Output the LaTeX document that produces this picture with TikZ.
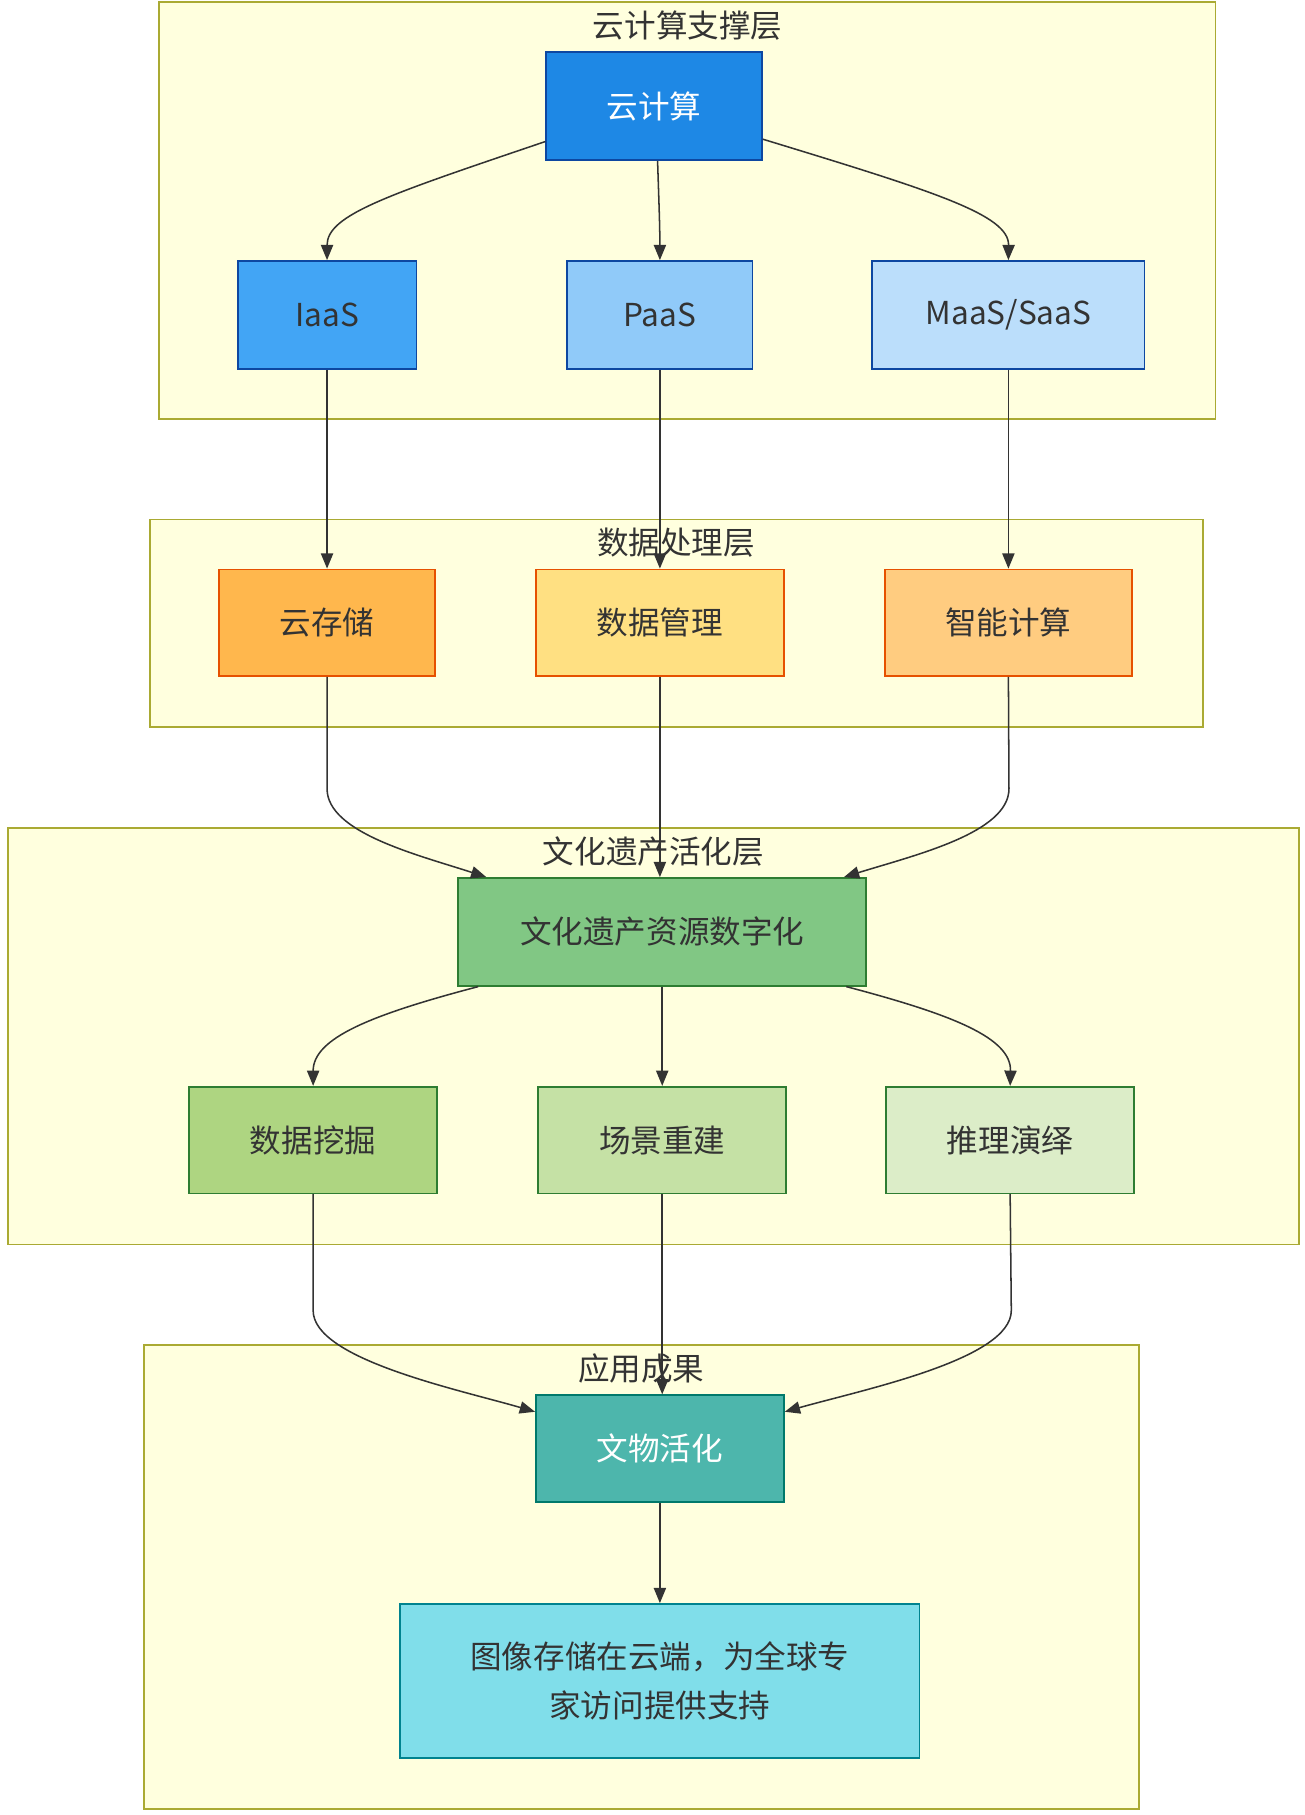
\documentclass[tikz,border=0pt]{standalone}
\usepackage{fontspec}
\setmainfont{Noto Sans CJK SC}
\usetikzlibrary{arrows.meta,calc}
\definecolor{clfill}{HTML}{FFFFDE}
\definecolor{cldraw}{HTML}{AAAA33}
\definecolor{txt}{HTML}{333333}
\definecolor{edge}{HTML}{333333}
\definecolor{bA}{HTML}{1E88E5}
\definecolor{bB}{HTML}{42A5F5}
\definecolor{bC}{HTML}{90CAF9}
\definecolor{bD}{HTML}{BBDEFB}
\definecolor{bS}{HTML}{0D47A1}
\definecolor{oA}{HTML}{FFB74D}
\definecolor{oB}{HTML}{FFE082}
\definecolor{oC}{HTML}{FFCC80}
\definecolor{oS}{HTML}{E65100}
\definecolor{gA}{HTML}{81C784}
\definecolor{gB}{HTML}{AED581}
\definecolor{gC}{HTML}{C5E1A5}
\definecolor{gD}{HTML}{DCEDC8}
\definecolor{gS}{HTML}{2E7D32}
\definecolor{tA}{HTML}{4DB6AC}
\definecolor{tS}{HTML}{00796B}
\definecolor{cA}{HTML}{80DEEA}
\definecolor{cS}{HTML}{00838F}
\tikzset{
  cluster/.style={draw=cldraw, fill=clfill, line width=0.9pt},
  cltitle/.style={inner sep=0pt, text=txt, font=\fontsize{15.5}{18}\selectfont},
  box/.style={draw, line width=0.8pt, inner sep=0pt, align=center, text=txt,
    font=\fontsize{15.5}{24}\selectfont, minimum height=1.86cm},
  arr/.style={draw=edge, line width=0.75pt, -{Triangle[length=7.5pt,width=6pt]}}
}
\begin{document}
\begin{tikzpicture}[x=0.02cm,y=-0.02cm]
\useasboundingbox (0,0) rectangle (1125,1565);
\fill[white] (0,0) rectangle (1125,1565);
% clusters
\draw[cluster] (137,2) rectangle (1048,361);
\draw[cluster] (129,448) rectangle (1037,627);
\draw[cluster] (7,714) rectangle (1120,1073);
\draw[cluster] (124,1160) rectangle (982,1560);
\node[cltitle] (t1) at (593,22) {云计算支撑层};
\node[cltitle] (t2) at (583,468) {数据处理层};
\node[cltitle] (t3) at (563.5,734) {文化遗产活化层};
\node[cltitle] (t4) at (553,1180) {应用成果};
% layer 1
\node[box, draw=bS, fill=bA, text=white, minimum width=3.72cm] (yun) at (564,91.5) {云计算};
\node[box, draw=bS, fill=bB, minimum width=3.08cm] (iaas) at (282,271.5) {IaaS};
\node[box, draw=bS, fill=bC, minimum width=3.2cm] (paas) at (569,271.5) {PaaS};
\node[box, draw=bS, fill=bD, minimum width=4.7cm] (maas) at (869.5,271.5) {MaaS/SaaS};
% layer 2
\node[box, draw=oS, fill=oA, minimum width=3.72cm, minimum height=1.84cm] (cs) at (282,537) {云存储};
\node[box, draw=oS, fill=oB, minimum width=4.28cm, minimum height=1.84cm] (dm) at (569,537) {数据管理};
\node[box, draw=oS, fill=oC, minimum width=4.26cm, minimum height=1.84cm] (zn) at (869.5,537) {智能计算};
% layer 3
\node[box, draw=gS, fill=gA, minimum width=7.04cm] (wh) at (571,803.5) {文化遗产资源数字化};
\node[box, draw=gS, fill=gB, minimum width=4.28cm, minimum height=1.84cm] (sj) at (270,983) {数据挖掘};
\node[box, draw=gS, fill=gC, minimum width=4.28cm, minimum height=1.84cm] (cj) at (571,983) {场景重建};
\node[box, draw=gS, fill=gD, minimum width=4.28cm, minimum height=1.84cm] (tl) at (871,983) {推理演绎};
% layer 4
\node[box, draw=tS, fill=tA, text=white, minimum width=4.28cm, minimum height=1.84cm] (ww) at (569,1249) {文物活化};
\node[box, draw=cS, fill=cA, minimum width=8.96cm, minimum height=2.66cm] (tx) at (569,1449.5) {图像存储在云端，为全球专\\家访问提供支持};
% edges
\draw[arr] ($(yun.west)+(0,30.5)$) .. controls (335,168) and (282,185) .. (iaas.north);
\draw[arr] ($(yun.south)+(3,0)$) .. controls (568,170) and (569,195) .. (paas.north);
\draw[arr] ($(yun.east)+(0,28.5)$) .. controls (805,165) and (870,185) .. (maas.north);
\draw[arr] (iaas.south) -- (cs.north);
\draw[arr] (paas.south) -- (dm.north);
\draw[arr] (maas.south) -- (zn.north);
\draw[arr] (cs.south) -- (282,680) .. controls (282,718) and (360,737) .. ($(wh.north west)+(25,0)$);
\draw[arr] (dm.south) -- ($(wh.north)+(-2,0)$);
\draw[arr] (zn.south) -- (870,680) .. controls (870,718) and (790,737) .. ($(wh.north east)+(-20,0)$);
\draw[arr] ($(wh.south west)+(18,0)$) .. controls (320,875) and (270,895) .. (sj.north);
\draw[arr] (wh.south) -- (cj.north);
\draw[arr] ($(wh.south east)+(-18,0)$) .. controls (822,875) and (872,895) .. (tl.north);
\draw[arr] (sj.south) -- (270,1130) .. controls (270,1172) and (395,1198) .. ($(ww.north west)+(0,15)$);
\draw[arr] (cj.south) -- ($(ww.north)+(2,0)$);
\draw[arr] (tl.south) -- (872,1130) .. controls (872,1172) and (745,1198) .. ($(ww.north east)+(0,15)$);
\draw[arr] (ww.south) -- (tx.north);
\end{tikzpicture}
\end{document}
